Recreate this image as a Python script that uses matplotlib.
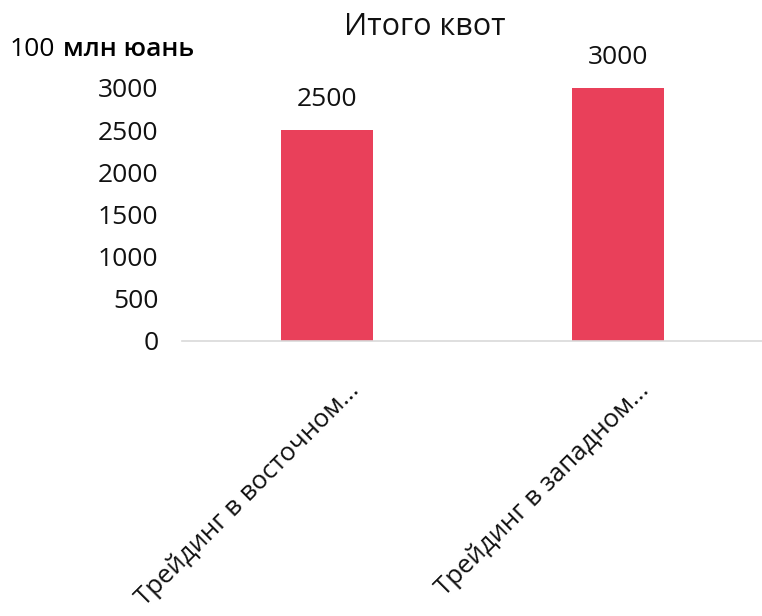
import matplotlib.pyplot as plt
import numpy as np
from matplotlib.transforms import ScaledTranslation

plt.rcParams['font.family'] = ['Open Sans', 'DejaVu Sans']

categories = ['Трейдинг в восточном...', 'Трейдинг в западном...']
values = [2500, 3000]
yticks = [0, 500, 1000, 1500, 2000, 2500, 3000]

fig = plt.figure(figsize=(7.62, 6.16), dpi=100)
ax = fig.add_axes([182 / 762, 1 - 341 / 616, (763 - 182) / 762, 295.4 / 616])

x = np.arange(len(categories))
bars = ax.bar(x, values, 0.317, color='#E9405A', zorder=2)

for xi, v in zip(x, values):
    ax.annotate(str(v), (xi, v), xytext=(0, 13), textcoords='offset points',
                ha='center', va='bottom', fontsize=19, color='#111111')

ax.set_xlim(-0.5, 1.5)
ax.set_ylim(0, 3500)
ax.set_yticks(yticks)
ax.set_yticklabels([str(t) for t in yticks], fontsize=19, color='#111111')
ax.set_xticks(x)
ax.set_xticklabels(categories, rotation=45, ha='right', va='center',
                   rotation_mode='anchor', fontsize=18.5, color='#111111')
ax.tick_params(axis='both', length=0)
ax.tick_params(axis='y', pad=17)
ax.tick_params(axis='x', pad=33)

# shift the rotated labels a bit to the right, like the reference
shift = ScaledTranslation(28 / 100, 0, fig.dpi_scale_trans)
for lab in ax.get_xticklabels():
    lab.set_transform(lab.get_transform() + shift)

for s in ['top', 'right', 'left']:
    ax.spines[s].set_visible(False)
ax.spines['bottom'].set_color('#d9d9d9')
ax.spines['bottom'].set_linewidth(1.2)

fig.text(425 / 762, 1 - 27 / 616, 'Итого квот', ha='center', va='center',
         fontsize=22, color='#111111')
fig.text(10 / 762, 1 - 50 / 616, '100', ha='left', va='center',
         fontsize=19, color='#000000')
fig.text(63 / 762, 1 - 50 / 616, 'млн юань', ha='left', va='center',
         fontsize=19, fontweight='semibold', color='#000000')

fig.savefig('out.png', dpi=100)
